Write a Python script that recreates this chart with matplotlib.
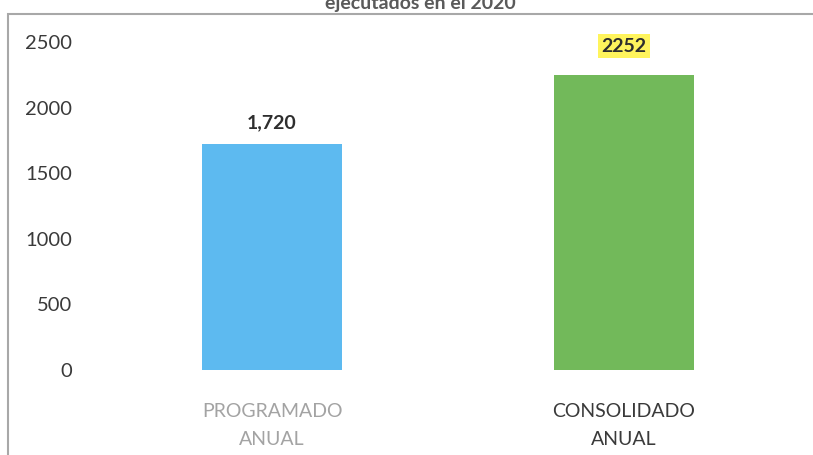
import matplotlib.pyplot as plt
from matplotlib.patches import Rectangle

categories = ['PROGRAMADO\nANUAL', 'CONSOLIDADO\nANUAL']
values = [1720, 2252]
value_labels = ['1,720', '2252']
bar_colors = ['#5DBAF0', '#72B95A']
label_colors = ['#A3A3A3', '#3A3A3A']
yticks = [0, 500, 1000, 1500, 2000, 2500]

plt.rcParams['font.family'] = ['Lato', 'DejaVu Sans']

W, H = 813, 455
fig = plt.figure(figsize=(W / 100, H / 100), dpi=100)

# outer chart frame (cropped scan)
frame = Rectangle((8 / W, -0.1), 1.1, (H - 14) / H + 0.1, transform=fig.transFigure,
                  fill=False, edgecolor='#A8A8A8', linewidth=1.5)
fig.patches.append(frame)

# title is cut off at the top in the source image
fig.text(420 / W, 1 - 3 / H, 'ejecutados en el 2020', ha='center', va='center',
         fontsize=14, fontweight='bold', color='#5A5A5A')

# axes: y=0 at pixel 370, y=2500 at pixel 42
ax_left, ax_right = 100, 800
ax_top, ax_bottom = 30, 370
ax = fig.add_axes([ax_left / W, 1 - ax_bottom / H, (ax_right - ax_left) / W, (ax_bottom - ax_top) / H])
px_per_unit = (370 - 42) / 2500
ax.set_ylim(0, (ax_bottom - ax_top) / px_per_unit)
px_per_cat = 352
ax.set_xlim(-(272 - ax_left) / px_per_cat, (ax_right - 272) / px_per_cat)

x = list(range(len(categories)))
ax.bar(x, values, width=0.4, color=bar_colors)

ax.text(0, values[0] + 100, value_labels[0], ha='center', va='bottom', fontsize=14,
        fontweight='bold', color='#2E2E2E')
ax.text(1, values[1] + 150, value_labels[1], ha='center', va='bottom', fontsize=14,
        fontweight='bold', color='#2E2E2E',
        bbox=dict(boxstyle='square,pad=0.18', facecolor='#FFF45C', edgecolor='none'))

ax.set_yticks(yticks)
ax.set_yticklabels([str(t) for t in yticks], fontsize=14.5, color='#3A3A3A')
ax.set_xticks(x)
ax.set_xticklabels(categories, fontsize=14, linespacing=1.75)
for tl, c in zip(ax.get_xticklabels(), label_colors):
    tl.set_color(c)
ax.tick_params(axis='both', length=0)
ax.tick_params(axis='y', pad=20)
ax.tick_params(axis='x', pad=24)
for s in ax.spines.values():
    s.set_visible(False)
ax.patch.set_alpha(0)

fig.savefig('out.png', dpi=100)
